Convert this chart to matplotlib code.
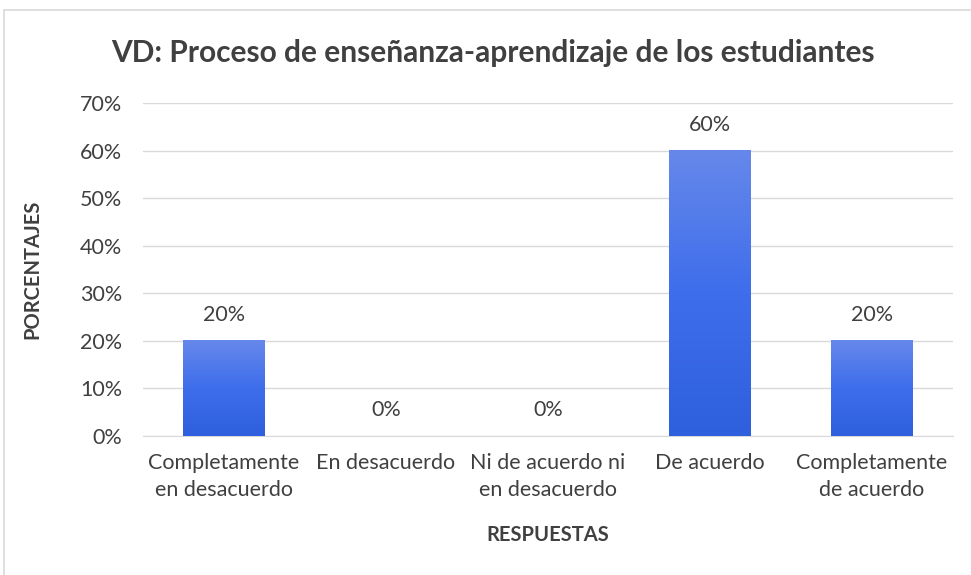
import numpy as np
import matplotlib.pyplot as plt
from matplotlib.patches import Rectangle
from matplotlib.colors import LinearSegmentedColormap

categorias = ['Completamente\nen desacuerdo', 'En desacuerdo', 'Ni de acuerdo ni\nen desacuerdo',
              'De acuerdo', 'Completamente\nde acuerdo']
porcentajes = [0.20, 0.0, 0.0, 0.60, 0.20]
etiquetas = ['20%', '0%', '0%', '60%', '20%']
yticks = [0, 0.1, 0.2, 0.3, 0.4, 0.5, 0.6, 0.7]

plt.rcParams['font.family'] = ['Lato', 'DejaVu Sans']
texto = '#404040'

fig = plt.figure(figsize=(9.71, 5.75), dpi=100)
# marco gris claro del gráfico
fig.patches.append(Rectangle((4 / 971, -0.1), 1.2, 1 - 10 / 575 + 0.1, transform=fig.transFigure,
                             fill=False, edgecolor='#D9D9D9', linewidth=1.2))
ax = fig.add_axes([0.1473, 0.2417, 0.8342, 0.5792])

x = np.arange(len(categorias))
bars = ax.bar(x, porcentajes, width=0.506, color='none', zorder=3)

# degradado en cada barra
grad = np.linspace(0, 1, 256).reshape(-1, 1)
cmap = LinearSegmentedColormap.from_list('azul', ['#2E5FDD', '#3E6EEC', '#6688EA'])
for b in bars:
    if b.get_height() > 0:
        ax.imshow(grad, extent=[b.get_x(), b.get_x() + b.get_width(), 0, b.get_height()],
                  origin='lower', aspect='auto', cmap=cmap, zorder=3)

for i, v in enumerate(porcentajes):
    ax.text(x[i], v + 0.033, etiquetas[i], ha='center', va='bottom', fontsize=15.5, color=texto)

ax.set_xlim(-0.5, len(categorias) - 0.5)
ax.set_ylim(0, 0.7)
ax.set_yticks(yticks)
ax.set_yticklabels([f'{t*100:.0f}%' for t in yticks], fontsize=15.5, color=texto)
ax.set_xticks(x)
ax.set_xticklabels(categorias, fontsize=15.5, color=texto, linespacing=1.45)
ax.tick_params(axis='y', length=0, pad=15)
ax.tick_params(axis='x', length=0, pad=12)
ax.grid(axis='y', color='#D9D9D9', linewidth=1, zorder=0)
ax.set_axisbelow(True)
for s in ['top', 'right', 'left']:
    ax.spines[s].set_visible(False)
ax.spines['bottom'].set_color('#D9D9D9')

ax.set_xlabel('RESPUESTAS', fontsize=14.5, fontweight='bold', color=texto, labelpad=18)
ax.set_ylabel('PORCENTAJES', fontsize=14.5, fontweight='bold', color=texto, labelpad=27)
fig.text(0.508, 0.908, 'VD: Proceso de enseñanza-aprendizaje de los estudiantes',
         ha='center', va='center', fontsize=21.5, fontweight='bold', color=texto)

fig.savefig('out.png', dpi=100)
